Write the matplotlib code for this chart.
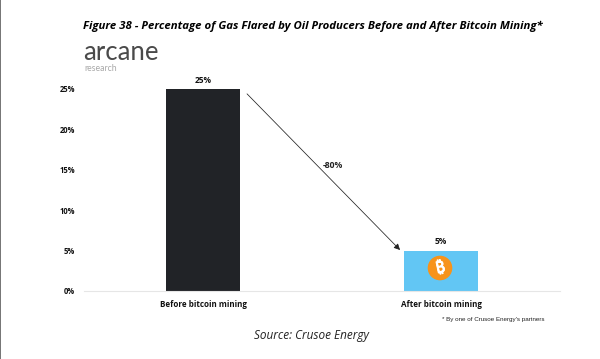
import matplotlib
matplotlib.use("Agg")
import matplotlib.pyplot as plt
from matplotlib.patches import Circle, Rectangle
import matplotlib.patheffects as pe

categories = ["Before bitcoin mining", "After bitcoin mining"]
values = [25, 5]
bar_labels = ["25%", "5%"]
yticks = [0, 5, 10, 15, 20, 25]
ytick_labels = ["0%", "5%", "10%", "15%", "20%", "25%"]
change_label = "-80%"
bar_colors = ["#212327", "#62c6f4"]

W, H = 600, 359
plt.rcParams["font.family"] = ["Open Sans", "DejaVu Sans"]
fig = plt.figure(figsize=(W / 100, H / 100), dpi=100, facecolor="white")

x0, x1, ytop, ybot = 84, 560, 89, 291
ax = fig.add_axes([x0 / W, 1 - ybot / H, (x1 - x0) / W, (ybot - ytop) / H])
ax.bar([0, 1], values, width=0.31, color=bar_colors, zorder=2)
ax.set_xlim(-0.5, 1.5)
ax.set_ylim(0, 25)
ax.set_yticks(yticks)
ax.set_yticklabels(ytick_labels, fontsize=5.5, fontweight="bold", color="#111111")
ax.set_xticks([0, 1])
ax.set_xticklabels(categories, fontsize=5.8, fontweight="bold", color="#111111")
ax.tick_params(axis="both", length=0)
ax.tick_params(axis="x", pad=6.2)
ax.tick_params(axis="y", pad=6.5)
for s in ["top", "right", "left"]:
    ax.spines[s].set_visible(False)
ax.spines["bottom"].set_color("#e6e6e6")
ax.spines["bottom"].set_linewidth(0.8)

for i, v in enumerate(values):
    ax.annotate(bar_labels[i], (i, v), xytext=(0, 3.2), textcoords="offset points",
                ha="center", va="bottom", fontsize=6, fontweight="bold", color="#111111",
                annotation_clip=False)

ax.annotate("", xy=(0.828, 5.07), xytext=(0.185, 24.4),
            arrowprops=dict(arrowstyle="-|>", color="#222222", lw=0.55, mutation_scale=9,
                            shrinkA=0, shrinkB=0), annotation_clip=False)
ax.text(0.503, 15.55, change_label, fontsize=6.2, fontweight="bold", color="#222222",
        ha="left", va="center")

# overlay in pixel coordinates
ov = fig.add_axes([0, 0, 1, 1], facecolor="none")
ov.set_xlim(0, W)
ov.set_ylim(H, 0)
ov.axis("off")
ov.add_patch(Rectangle((0, 0), 1.2, H, color="#777777", lw=0))
ov.add_patch(Circle((440, 268), 12.3, color="#f7931a", lw=0))
coin = ov.text(440.3, 268, "₿", fontsize=11.5, color="white",
               ha="center", va="center", rotation=12, family=["DejaVu Sans", "Noto Sans"])
coin.set_path_effects([pe.withStroke(linewidth=0.6, foreground="white")])

ov.text(313, 26, "Figure 38 - Percentage of Gas Flared by Oil Producers Before and After Bitcoin Mining*",
        fontsize=8.2, fontstyle="italic", fontweight="bold", color="black", ha="center", va="center")
ov.text(83.5, 60.5, "arcane", fontsize=18.5, color="#4a4a4a", ha="left", va="baseline",
        family="Lato", fontweight="normal")
ov.text(84, 71, "research", fontsize=6.2, color="#a8a8a8", ha="left", va="baseline", family="Lato")
ov.text(442, 319.5, "* By one of Crusoe Energy's partners", fontsize=4.5,
        color="#222222", ha="left", va="center", family="Liberation Sans")
ov.text(311, 336, "Source: Crusoe Energy", fontsize=8.5, fontstyle="italic",
        color="#222222", ha="center", va="center")

fig.savefig("out.png", dpi=100)
